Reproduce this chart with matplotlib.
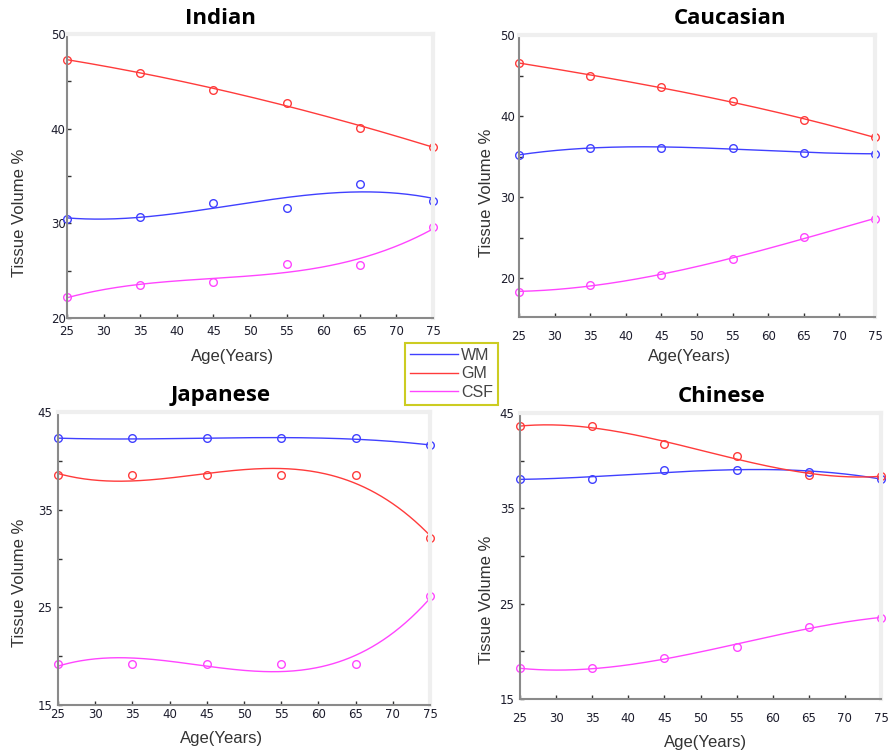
import numpy as np
import matplotlib.pyplot as plt

ages = [25, 35, 45, 55, 65, 75]
tissues = ["WM", "GM", "CSF"]

indian_wm = [30.5, 30.7, 32.1, 31.6, 34.2, 32.4]
indian_gm = [47.3, 45.9, 44.1, 42.7, 40.1, 38.1]
indian_csf = [22.2, 23.5, 23.8, 25.7, 25.6, 29.6]

caucasian_wm = [35.2, 36.1, 36.1, 36.0, 35.5, 35.35]
caucasian_gm = [46.6, 44.9, 43.6, 41.8, 39.5, 37.4]
caucasian_csf = [18.3, 19.2, 20.4, 22.3, 25.1, 27.3]

japanese_wm = [42.3, 42.3, 42.3, 42.3, 42.3, 41.6]
japanese_gm = [38.5, 38.5, 38.5, 38.5, 38.5, 32.1]
japanese_csf = [19.2, 19.2, 19.2, 19.2, 19.2, 26.2]

chinese_wm = [38.1, 38.1, 39.0, 39.0, 38.85, 38.1]
chinese_gm = [43.6, 43.6, 41.7, 40.5, 38.5, 38.4]
chinese_csf = [18.2, 18.2, 19.3, 20.5, 22.6, 23.5]

colors = ["#4040ff", "#ff3b3b", "#ff45ff"]

W, H = 896, 753
fig = plt.figure(figsize=(W / 100, H / 100), dpi=100)


def rect(l, t, r, b):
    return [l / W, 1 - b / H, (r - l) / W, (b - t) / H]


# title, series, axes box (px), ylim, labelled y ticks, x pad, y pad,
# title pos, ylabel pos, xlabel pos
panels = [
    ("Indian", (indian_wm, indian_gm, indian_csf), (67, 34, 433, 318),
     (20, 50), [20, 30, 40, 50], 5, 1, (220, 19), (20, 213), (233, 357)),
    ("Caucasian", (caucasian_wm, caucasian_gm, caucasian_csf), (519, 35, 875, 317),
     (15.2, 50), [20, 30, 40, 50], 9, 3, (730, 19), (486, 193), (690, 357)),
    ("Japanese", (japanese_wm, japanese_gm, japanese_csf), (58, 412, 430, 705),
     (15, 45), [15, 25, 35, 45], 2, 4, (221, 396), (20, 583), (222, 738)),
    ("Chinese", (chinese_wm, chinese_gm, chinese_csf), (520, 413, 881, 699),
     (15, 45), [15, 25, 35, 45], 9, 4, (722, 396), (486, 600), (706, 742)),
]

xs = np.linspace(25, 75, 200)
handles = []
for title, series, box, ylim, ylab, xpad, ypad, tpos, ylpos, xlpos in panels:
    ax = fig.add_axes(rect(*box))
    for vals, c in zip(series, colors):
        # cubic trend through each tissue class
        fit = np.polyfit(ages, vals, 3)
        ln, = ax.plot(xs, np.polyval(fit, xs), color=c, lw=1)
        ax.plot(ages, vals, "o", mfc="none", mec=c, ms=5.5, mew=1, clip_on=False)
        if title == "Indian":
            handles.append(ln)
    ax.set_xlim(25, 75)
    ax.set_ylim(*ylim)
    ax.set_xticks(range(25, 80, 5))
    yt = np.arange(15, 55, 5)
    yt = yt[(yt >= ylim[0]) & (yt <= ylim[1])]
    ax.set_yticks(yt)
    ax.set_yticklabels([str(v) if v in ylab else "" for v in yt])
    ax.tick_params(direction="in", length=3, width=1, color="#333333",
                   labelsize=8.5, labelcolor="#1c1c2c")
    ax.tick_params(axis="x", pad=xpad)
    ax.tick_params(axis="y", pad=ypad)
    for s in ("left", "bottom"):
        ax.spines[s].set_color("#8a8a8a")
        ax.spines[s].set_linewidth(1.5)
    for s in ("top", "right"):
        ax.spines[s].set_color("#efefef")
        ax.spines[s].set_linewidth(3)
    fig.text(tpos[0] / W, 1 - tpos[1] / H, title, ha="center", va="center",
             fontsize=16, fontweight="bold", family=["Open Sans", "DejaVu Sans"])
    fig.text(ylpos[0] / W, 1 - ylpos[1] / H, "Tissue Volume %", rotation=90,
             ha="center", va="center", fontsize=12, color="#333333",
             family="Liberation Sans")
    fig.text(xlpos[0] / W, 1 - xlpos[1] / H, "Age(Years)", ha="center",
             va="center", fontsize=12, color="#333333", family="Liberation Sans")

leg = fig.legend(handles, tissues, loc="upper left",
                 bbox_to_anchor=(405 / W, 1 - 343 / H), borderaxespad=0,
                 fancybox=False, framealpha=1, edgecolor="#cccc22",
                 handlelength=3.0, handletextpad=0.2, labelspacing=0.22,
                 borderpad=0.3, prop={"family": "Liberation Sans", "size": 11.5})
leg.get_frame().set_linewidth(1.5)
for t in leg.get_texts():
    t.set_color("#444444")

fig.savefig("out.png", dpi=100)
